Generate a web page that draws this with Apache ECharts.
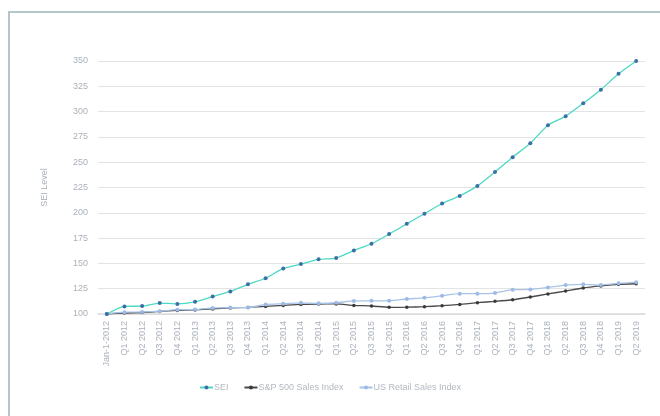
<!DOCTYPE html>
<html lang="en">
<head>
    <meta charset="UTF-8">
    <title>SEI Level</title>
    <style>
        body { margin: 0; background: #fff; }
        #frame { position: absolute; left: 8px; top: 11px; width: 660px; height: 420px;
                 border-left: 2px solid #b3c6c9; border-top: 2px solid #b3c6c9; }
        #chart { position: absolute; left: 0; top: 0; width: 660px; height: 416px; }
    </style>
</head>
<body>
<div id="frame"></div>
<div id="chart"></div>
<script src="https://cdn.jsdelivr.net/npm/echarts@6/dist/echarts.min.js"></script>
<script>

    var categories = ['Jan-1-2012',
        'Q1 2012', 'Q2 2012', 'Q3 2012', 'Q4 2012',
        'Q1 2013', 'Q2 2013', 'Q3 2013', 'Q4 2013',
        'Q1 2014', 'Q2 2014', 'Q3 2014', 'Q4 2014',
        'Q1 2015', 'Q2 2015', 'Q3 2015', 'Q4 2015',
        'Q1 2016', 'Q2 2016', 'Q3 2016', 'Q4 2016',
        'Q1 2017', 'Q2 2017', 'Q3 2017', 'Q4 2017',
        'Q1 2018', 'Q2 2018', 'Q3 2018', 'Q4 2018',
        'Q1 2019', 'Q2 2019'];

    var sei = [100, 107.5, 107.8, 110.8, 110, 112, 117.2, 122.3, 129.3, 135.3, 145, 149.3, 154, 155.3,
        162.7, 169.4, 179, 189.1, 199.1, 209.2, 216.7, 226.6, 240.4, 255, 268.7, 286.5, 295.4, 308.2,
        321.7, 337.3, 350];

    var sp500 = [100, 101, 101.5, 102.5, 103.5, 104, 105, 106, 106.5, 107.5, 108.5, 109.5, 109.8, 110,
        108.5, 107.9, 106.6, 106.7, 107.2, 108.2, 109.5, 111.2, 112.5, 114.1, 116.8, 119.8, 122.7, 125.7,
        127.7, 129.3, 129.9];

    var retail = [100, 101.8, 102, 102.8, 104.3, 104.4, 106, 106.3, 106.3, 109.5, 110.2, 111, 110.5, 111.1,
        112.9, 113, 113.2, 114.8, 116, 118, 120.1, 120.1, 120.7, 124, 124.3, 126.3, 128.6, 129.3,
        128.6, 130.3, 131.3];

    var txt = '#aab1bb';
    var font = 'Liberation Sans';

    var chart = echarts.init(document.getElementById('chart'));

    var option = {
        animation: false,
        textStyle: { fontFamily: font },
        legend: {
            bottom: 19,
            left: 'center',
            itemWidth: 13,
            itemHeight: 5,
            itemGap: 15,
            textStyle: { color: '#b3b9c2', fontSize: 9, fontFamily: font, padding: [0, 0, 0, -4] },
            data: ['SEI', 'S&P 500 Sales Index', 'US Retail Sales Index']
        },
        grid: {
            left: 98,
            right: 15,
            top: 61,
            bottom: 102
        },
        xAxis: {
            type: 'category',
            boundaryGap: true,
            data: categories,
            axisLine: { lineStyle: { color: '#dcdcdc', width: 1.5 } },
            axisTick: { show: false },
            axisLabel: {
                rotate: 90,
                interval: 0,
                margin: 7,
                color: txt,
                fontSize: 9,
                fontFamily: font
            }
        },
        yAxis: {
            type: 'value',
            min: 100,
            max: 350,
            interval: 25,
            name: 'SEI Level',
            nameLocation: 'middle',
            nameGap: 49,
            nameRotate: 90,
            nameTextStyle: { color: txt, fontSize: 9, fontFamily: font },
            axisLine: { show: false },
            axisTick: { show: false },
            axisLabel: { color: txt, fontSize: 9, margin: 10, fontFamily: font },
            splitLine: { lineStyle: { color: '#e3e3e3', width: 1.2 } }
        },
        series: [
            {
                name: 'SEI',
                type: 'line',
                data: sei,
                smooth: 0.2,
                symbol: 'circle',
                symbolSize: 4,
                lineStyle: { color: '#4cd9c2', width: 1.3 },
                itemStyle: { color: '#3c6fa6' },
                z: 3
            },
            {
                name: 'S&P 500 Sales Index',
                type: 'line',
                data: sp500,
                smooth: 0.2,
                symbol: 'circle',
                symbolSize: 3.5,
                lineStyle: { color: '#4a4a4a', width: 1.3 },
                itemStyle: { color: '#3a3a3a' },
                z: 2
            },
            {
                name: 'US Retail Sales Index',
                type: 'line',
                data: retail,
                smooth: 0.2,
                symbol: 'circle',
                symbolSize: 4,
                lineStyle: { color: '#a9c3e6', width: 1.3 },
                itemStyle: { color: '#9dbbe6' },
                z: 2
            }
        ]
    };

    chart.setOption(option);

</script>
</body>
</html>
